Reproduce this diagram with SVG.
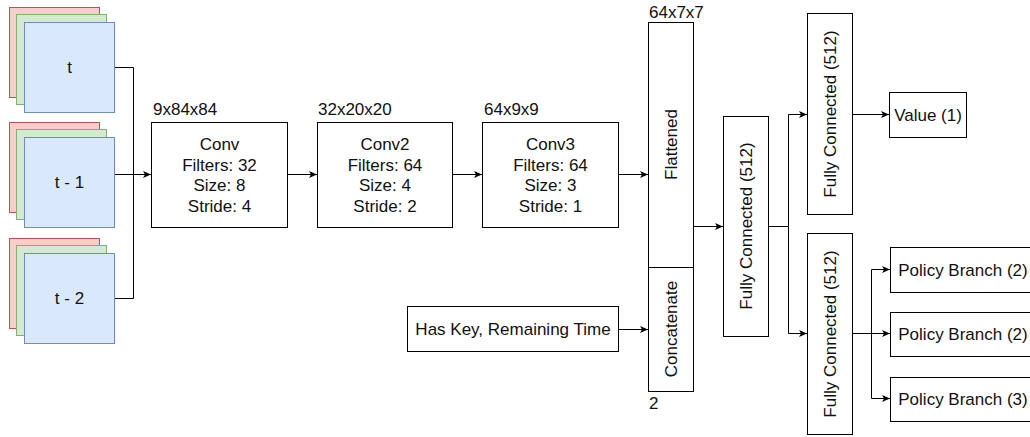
<svg xmlns="http://www.w3.org/2000/svg" width="1030" height="437" viewBox="0 0 1030 437">
<defs>
<marker id="arr" markerUnits="userSpaceOnUse" markerWidth="9" markerHeight="9" refX="8" refY="4.5" orient="auto">
<path d="M0,1 L8,4.5 L0,8 L2,4.5 z" fill="#000"/>
</marker>
<style>
text{font-family:"Liberation Sans",Arial,Helvetica,sans-serif;font-size:17px;fill:#111}
.c{text-anchor:middle;dominant-baseline:central}
.box{fill:#fff;stroke:#000;stroke-width:1}
.r{fill:#f8cecc;stroke:#b85450;stroke-width:1}
.g{fill:#d5e8d4;stroke:#82b366;stroke-width:1}
.b{fill:#dae8fc;stroke:#6c8ebf;stroke-width:1}
.ln{fill:none;stroke:#000;stroke-width:1}
.ar{fill:none;stroke:#000;stroke-width:1;marker-end:url(#arr)}
</style>
</defs>
<rect width="1030" height="437" fill="#fff"/>
<g id="frame-t">
<rect class="r" x="9.5" y="7.5" width="90" height="90"/>
<rect class="g" x="16.5" y="14.5" width="90" height="90"/>
<rect class="b" x="24.5" y="22.5" width="90" height="90"/>
<text class="c" x="69.5" y="67">t</text>
</g>
<g id="frame-t1">
<rect class="r" x="9.5" y="122.5" width="90" height="90"/>
<rect class="g" x="16.5" y="129.5" width="90" height="90"/>
<rect class="b" x="24.5" y="137.5" width="90" height="90"/>
<text class="c" x="69.5" y="182">t - 1</text>
</g>
<g id="frame-t2">
<rect class="r" x="9.5" y="238.5" width="90" height="90"/>
<rect class="g" x="16.5" y="245.5" width="90" height="90"/>
<rect class="b" x="24.5" y="253.5" width="90" height="90"/>
<text class="c" x="69.5" y="298">t - 2</text>
</g>
<g id="conv1">
<rect class="box" x="151.5" y="122.5" width="136" height="105"/>
<text x="153" y="115">9x84x84</text>
<text class="c" x="219.5" y="144.5">Conv</text>
<text class="c" x="219.5" y="165">Filters: 32</text>
<text class="c" x="219.5" y="185.5">Size: 8</text>
<text class="c" x="219.5" y="206">Stride: 4</text>
</g>
<g id="conv2">
<rect class="box" x="317.5" y="122.5" width="135" height="105"/>
<text x="318" y="115">32x20x20</text>
<text class="c" x="385" y="144.5">Conv2</text>
<text class="c" x="385" y="165">Filters: 64</text>
<text class="c" x="385" y="185.5">Size: 4</text>
<text class="c" x="385" y="206">Stride: 2</text>
</g>
<g id="conv3">
<rect class="box" x="482.5" y="122.5" width="136" height="105"/>
<text x="484" y="115">64x9x9</text>
<text class="c" x="550.5" y="144.5">Conv3</text>
<text class="c" x="550.5" y="165">Filters: 64</text>
<text class="c" x="550.5" y="185.5">Size: 3</text>
<text class="c" x="550.5" y="206">Stride: 1</text>
</g>
<g id="flattened">
<rect class="box" x="648.5" y="22.5" width="45" height="245"/>
<text x="649" y="18">64x7x7</text>
<text class="c" transform="translate(671,144.5) rotate(-90)">Flattened</text>
</g>
<g id="concatenate">
<rect class="box" x="648.5" y="267.5" width="45" height="124"/>
<text x="649" y="409">2</text>
<text class="c" transform="translate(671,329) rotate(-90)">Concatenate</text>
</g>
<g id="haskey">
<rect class="box" x="407.5" y="306.5" width="211" height="45"/>
<text class="c" x="513" y="329">Has Key, Remaining Time</text>
</g>
<g id="fc1">
<rect class="box" x="723.5" y="116.5" width="45" height="220"/>
<text class="c" transform="translate(746,226) rotate(-90)">Fully Connected (512)</text>
</g>
<g id="fc-value">
<rect class="box" x="807.5" y="13.5" width="45" height="201"/>
<text class="c" transform="translate(830,114) rotate(-90)">Fully Connected (512)</text>
</g>
<g id="fc-policy">
<rect class="box" x="807.5" y="233.5" width="45" height="201"/>
<text class="c" transform="translate(830,334) rotate(-90)">Fully Connected (512)</text>
</g>
<g id="value">
<rect class="box" x="889.5" y="92.5" width="77" height="45"/>
<text class="c" x="928" y="115">Value (1)</text>
</g>
<g id="policy1">
<rect class="box" x="890.5" y="247.5" width="146" height="45"/>
<text class="c" x="963" y="270">Policy Branch (2)</text>
</g>
<g id="policy2">
<rect class="box" x="890.5" y="312.5" width="146" height="44"/>
<text class="c" x="963" y="334">Policy Branch (2)</text>
</g>
<g id="policy3">
<rect class="box" x="890.5" y="377.5" width="146" height="44"/>
<text class="c" x="963" y="399">Policy Branch (3)</text>
</g>
<g id="connectors">
<polyline class="ln" points="115,67.5 133.5,67.5 133.5,298.5 115,298.5"/>
<line class="ar" x1="115" y1="174.5" x2="151" y2="174.5"/>
<line class="ar" x1="288" y1="174.5" x2="317" y2="174.5"/>
<line class="ar" x1="453" y1="174.5" x2="482" y2="174.5"/>
<line class="ar" x1="619" y1="174.5" x2="648" y2="174.5"/>
<line class="ar" x1="619" y1="329.5" x2="648" y2="329.5"/>
<line class="ar" x1="694" y1="226.5" x2="723" y2="226.5"/>
<line class="ln" x1="769" y1="226.5" x2="788.5" y2="226.5"/>
<polyline class="ar" points="788.5,226.5 788.5,114.5 807,114.5"/>
<polyline class="ar" points="788.5,226.5 788.5,333.5 807,333.5"/>
<line class="ar" x1="853" y1="114.5" x2="889" y2="114.5"/>
<line class="ar" x1="853" y1="333.5" x2="890" y2="333.5"/>
<polyline class="ar" points="871.5,333.5 871.5,269.5 890,269.5"/>
<polyline class="ar" points="871.5,333.5 871.5,398.5 890,398.5"/>
</g>
</svg>
